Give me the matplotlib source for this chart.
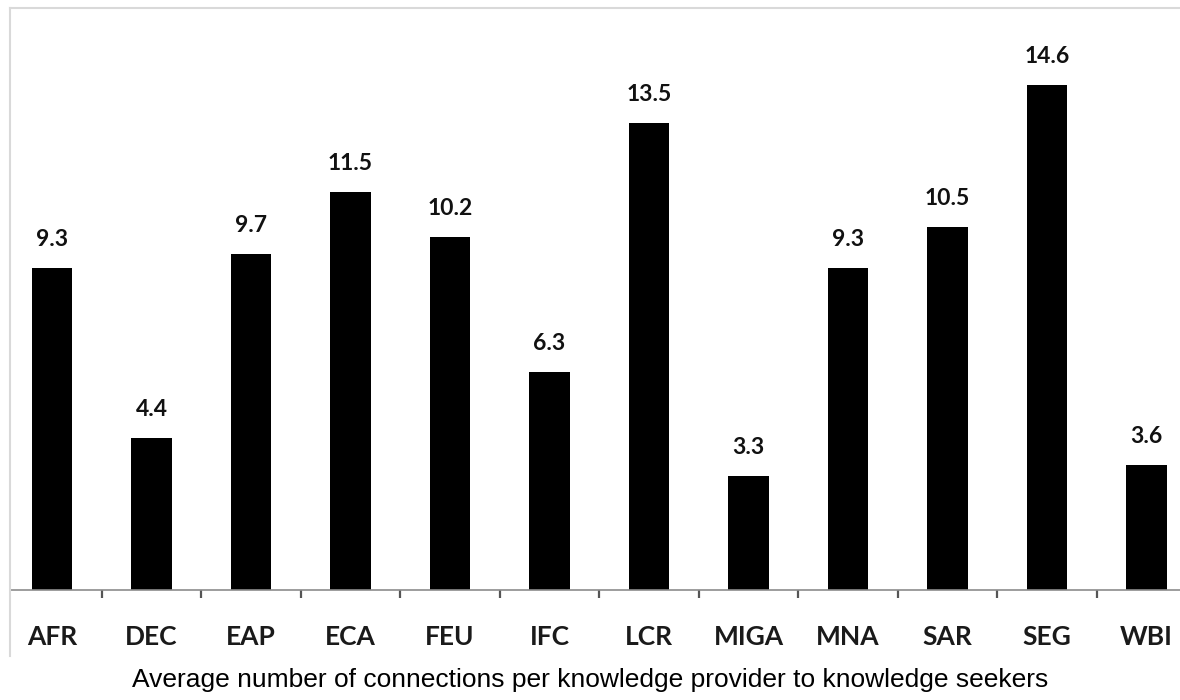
import matplotlib.pyplot as plt
from matplotlib.lines import Line2D
import numpy as np

# data
units = ["AFR", "DEC", "EAP", "ECA", "FEU", "IFC", "LCR", "MIGA", "MNA", "SAR", "SEG", "WBI"]
avg_connections = [9.3, 4.4, 9.7, 11.5, 10.2, 6.3, 13.5, 3.3, 9.3, 10.5, 14.6, 3.6]
caption = "Average number of connections per knowledge provider to knowledge seekers"

W, H = 1180, 700
fig = plt.figure(figsize=(W / 100, H / 100), dpi=100)

# axes placed in pixel terms: left at border (x=10), baseline at y=590, top at y=8
x0, x1 = 10, 1180
ytop, ybot = 8, 590
ax = fig.add_axes([x0 / W, 1 - ybot / H, (x1 - x0) / W, (ybot - ytop) / H])

pos = np.arange(len(units))
ax.bar(pos, avg_connections, width=0.41, color="black")

spacing = 99.5
first = 52
ax.set_xlim((x0 - first) / spacing, (x1 - first) / spacing)
ax.set_ylim(0, (ybot - ytop) / 34.6)

for p, v in zip(pos, avg_connections):
    ax.annotate(f"{v}", (p, v), xytext=(0, 13), textcoords="offset points",
                ha="center", va="bottom", fontsize=16.5, fontweight="bold",
                family=["Lato", "DejaVu Sans"], color="#111111")

for s in ["top", "right", "left"]:
    ax.spines[s].set_visible(False)
ax.spines["bottom"].set_color("#8c8c8c")
ax.spines["bottom"].set_linewidth(1.2)
ax.set_yticks([])

ax.set_xticks(pos)
ax.set_xticklabels(units, fontsize=19, fontweight="bold", family=["Lato", "DejaVu Sans"], color="#1a1a1a")
ax.tick_params(axis="x", which="major", length=0, pad=25)
ax.set_xticks(pos[:-1] + 0.5, minor=True)
ax.tick_params(axis="x", which="minor", length=6, width=1.6, color="#555555", direction="out")

# light gray chart border (left and top edges)
fig.add_artist(Line2D([x0 / W, x0 / W], [1 - 656 / H, 1 - ytop / H], color="#d9d9d9", lw=1.5))
fig.add_artist(Line2D([x0 / W, 1], [1 - ytop / H, 1 - ytop / H], color="#d9d9d9", lw=1.5))

fig.text(590 / W, 1 - 680 / H, caption, ha="center", va="center", fontsize=19,
         family=["Liberation Sans Narrow", "Liberation Sans", "DejaVu Sans"], color="black")

fig.savefig("out.png", dpi=100)
